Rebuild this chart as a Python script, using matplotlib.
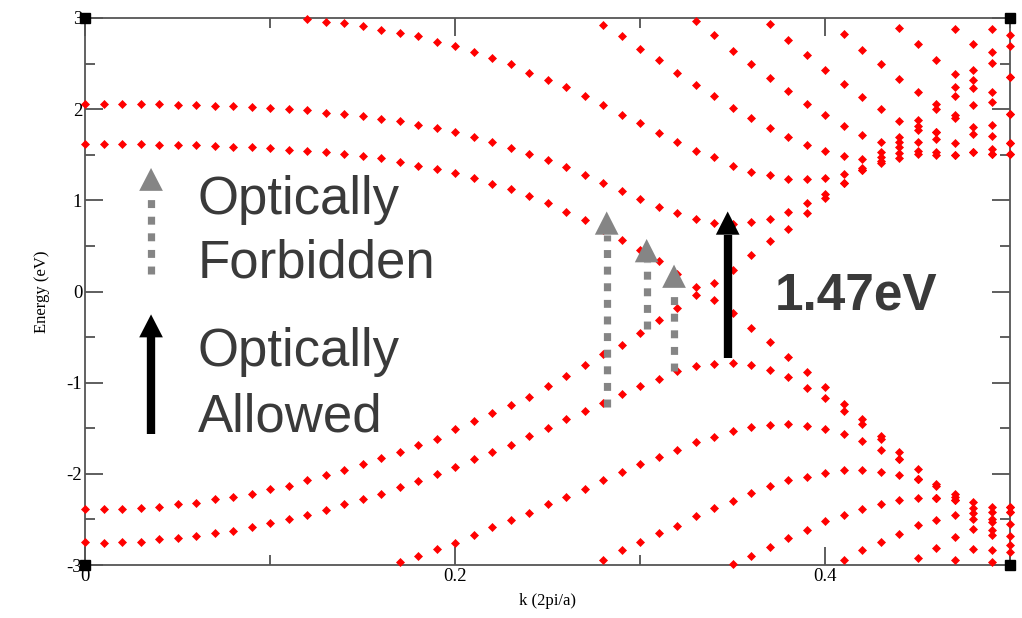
import numpy as np
import matplotlib
matplotlib.use("Agg")
import matplotlib.pyplot as plt
from matplotlib.patches import Polygon

plt.rcParams["axes.unicode_minus"] = False

# k-point sampling of the band calculation
k = np.linspace(0.0, 0.5, 51)

N = None
# conduction bands (eV), ordered from lowest at k=0
band_c1 = [1.616, 1.616, 1.616, 1.616, 1.604, 1.604, 1.604, 1.595, 1.59, 1.588,
           1.57, 1.555, 1.544, 1.533, 1.505, 1.49, 1.468, 1.42, 1.38, 1.344,
           1.30, 1.243, 1.18, 1.12, 1.045, 0.967, 0.877, 0.787, 0.68, 0.565,
           0.45, 0.33, 0.19, 0.05, 0.092, 0.236, 0.40, 0.55, 0.686, 0.862,
           1.025, 1.188, 1.333, 1.41, 1.46, 1.505, 1.50, 1.497, 1.533, 1.505, 1.505]
band_c2 = [2.054, 2.054, 2.054, 2.054, 2.054, 2.046, 2.046, 2.038, 2.038, 2.02,
           2.01, 2.0, 1.99, 1.96, 1.945, 1.92, 1.89, 1.87, 1.825, 1.79,
           1.75, 1.694, 1.64, 1.573, 1.507, 1.44, 1.362, 1.28, 1.194, 1.104,
           1.02, 0.93, 0.86, 0.795, 0.756, 0.743, 0.757, 0.795, 0.869, 0.971,
           1.065, 1.19, 1.333, 1.43, 1.52, 1.545, 1.53, 1.497, 1.533, 1.505, 1.505]
band_c3 = [N] * 12 + [2.99, 2.96, 2.94, 2.91, 2.87, 2.83, 2.80, 2.74,
                      2.69, 2.63, 2.56, 2.49, 2.40, 2.32, 2.24, 2.14, 2.05, 1.94,
                      1.85, 1.74, 1.64, 1.54, 1.47, 1.38, 1.315, 1.275, 1.235, 1.235,
                      1.24, 1.29, 1.359, 1.48, 1.58, 1.635, 1.67, 1.625, 1.727, 1.56, 1.625]
band_c4 = [N] * 28 + [2.92, 2.80, 2.66, 2.535, 2.40, 2.27, 2.14, 2.015, 1.90, 1.79,
                      1.69, 1.61, 1.54, 1.49, 1.45, 1.53, 1.64, 1.77, 1.75, 1.898,
                      1.807, 1.705, 1.625]
band_c5 = [N] * 33 + [2.965, 2.81, 2.637, 2.50, 2.342, 2.197, 2.062, 1.934, 1.818,
                      1.716, 1.64, 1.70, 1.82, 1.75, 1.934, 2.044, 1.825, 1.95]
band_c6 = [N] * 37 + [2.937, 2.754, 2.59, 2.434, 2.281, 2.134, 2.0, 1.87, 1.88,
                      2.0, 2.14, 2.237, 2.08, 1.95]
band_c7 = [N] * 41 + [2.827, 2.652, 2.50, 2.33, 2.19, 2.06, 2.24, 2.325, 2.19, 2.35]
band_c8 = [N] * 44 + [2.89, 2.72, 2.54, 2.39, 2.434, 2.51, 2.35]
band_c9 = [N] * 47 + [2.88, 2.71, 2.63, 2.69]
band_c10 = [N] * 49 + [2.88, 2.81]

# valence bands (eV), ordered from highest at k=0
band_v1 = [-2.387, -2.387, -2.387, -2.379, -2.367, -2.336, -2.317, -2.278, -2.258, -2.219,
           -2.17, -2.129, -2.07, -2.01, -1.953, -1.887, -1.824, -1.758, -1.68, -1.613,
           -1.511, -1.425, -1.335, -1.242, -1.152, -1.042, -0.929, -0.808, -0.69, -0.585,
           -0.45, -0.31, -0.18, -0.04, -0.088, -0.233, -0.40, -0.55, -0.714, -0.878,
           -1.053, -1.235, -1.399, -1.581, -1.756, -1.945, -2.109, -2.219, -2.31, -2.364, -2.364]
band_v2 = [-2.743, -2.755, -2.743, -2.743, -2.716, -2.704, -2.677, -2.645, -2.626, -2.579,
           -2.54, -2.493, -2.453, -2.395, -2.336, -2.274, -2.219, -2.149, -2.082, -2.004,
           -1.926, -1.84, -1.758, -1.68, -1.582, -1.492, -1.398, -1.308, -1.218, -1.12,
           -1.035, -0.956, -0.87, -0.82, -0.79, -0.78, -0.81, -0.86, -0.937, -1.054,
           -1.173, -1.308, -1.454, -1.617, -1.836, -2.062, -2.135, -2.255, -2.37, -2.419, -2.364]
band_v3 = [N] * 17 + [-2.965, -2.90, -2.82,
                      -2.755, -2.676, -2.586, -2.508, -2.43, -2.336, -2.254, -2.168, -2.07, -1.984,
                      -1.895, -1.816, -1.738, -1.652, -1.60, -1.53, -1.49, -1.465, -1.453, -1.472,
                      -1.508, -1.563, -1.636, -1.734, -1.836, -2.062, -2.266, -2.29, -2.43, -2.492, -2.42]
band_v4 = [N] * 28 + [-2.942, -2.84,
                      -2.747, -2.65, -2.567, -2.46, -2.375, -2.293, -2.207, -2.137, -2.07, -2.031,
                      -1.993, -1.953, -1.953, -1.975, -2.011, -2.062, -2.266, -2.29, -2.49, -2.528, -2.42]
band_v5 = [N] * 35 + [-2.99, -2.9, -2.80, -2.703, -2.618,
                      -2.52, -2.448, -2.39, -2.328, -2.292, -2.266, -2.266, -2.448, -2.60, -2.62, -2.555]
band_v6 = [N] * 41 + [-2.947, -2.838, -2.747, -2.656, -2.565, -2.51, -2.692, -2.82, -2.674, -2.685]
band_v7 = [N] * 45 + [-2.92, -2.809, -2.947, N, -2.838, -2.785]
band_v8 = [N] * 49 + [-2.965, -2.86]

bands = [band_c1, band_c2, band_c3, band_c4, band_c5, band_c6, band_c7, band_c8,
         band_c9, band_c10, band_v1, band_v2, band_v3, band_v4, band_v5, band_v6,
         band_v7, band_v8]

fig = plt.figure(figsize=(10.22, 6.18), dpi=100)
ax = fig.add_axes([85 / 1022, 53 / 618, 925 / 1022, 547 / 618])

for b in bands:
    e = np.array([np.nan if v is None else v for v in b], dtype=float)
    ax.plot(k, e, linestyle="none", marker="D", ms=3.9, color="#ff0000",
            mec="#ff0000", mew=0.5, clip_on=False, zorder=3)

ax.set_xlim(0, 0.5)
ax.set_ylim(-3, 3)
ax.set_xticks([0, 0.2, 0.4])
ax.set_xticklabels(["0", "0.2", "0.4"])
ax.set_xticks([0.1, 0.3, 0.5], minor=True)
ax.set_yticks(range(-3, 4))
ax.set_yticks(np.arange(-2.5, 3, 1.0), minor=True)
ax.tick_params(which="both", direction="in", top=True, right=True, color="#333333")
ax.tick_params(which="major", length=13, width=1.1, labelsize=13.5, pad=2)
ax.tick_params(which="minor", length=7, width=1.1)
for lab in ax.get_xticklabels() + ax.get_yticklabels():
    lab.set_family("Liberation Serif")
for s in ax.spines.values():
    s.set_color("#555555")
    s.set_linewidth(1.3)
ax.set_xlabel("k (2pi/a)", family="Liberation Serif", fontsize=12, labelpad=6)
ax.set_ylabel("Energy (eV)", family="Liberation Serif", fontsize=12, labelpad=12)

# corner markers
ax.plot([0, 1, 0, 1], [0, 0, 1, 1], "s", color="black", ms=7,
        transform=ax.transAxes, clip_on=False, zorder=5)


def arrow(x, y0, y1, yhead, color, dotted):
    # shaft from y0 up to the head base, then a filled triangular head
    if dotted:
        ax.plot([x, x], [y0, yhead], color=color, lw=5.2, solid_capstyle="butt",
                dash_capstyle="butt", linestyle=(0, (1.1, 1.2)), zorder=4)
    else:
        ax.plot([x, x], [y0, yhead], color=color, lw=6, solid_capstyle="butt", zorder=4)
    hw = 0.0064
    ax.add_patch(Polygon([[x - hw, yhead], [x + hw, yhead], [x, y1]],
                         closed=True, color=color, zorder=4, lw=0))


gray = "#858585"
arrow(0.0357, 0.197, 1.355, 1.104, gray, True)
arrow(0.0357, -1.563, -0.251, -0.503, "black", False)
arrow(0.282, -1.268, 0.878, 0.623, gray, True)
arrow(0.3036, -0.415, 0.576, 0.32, gray, True)
arrow(0.3184, -0.871, 0.295, 0.04, gray, True)
arrow(0.3474, -0.725, 0.878, 0.623, "black", False)

txt = dict(family="Liberation Sans", fontsize=38, color="#3a3a3a", zorder=6)
ax.text(0.061, 0.852, "Optically", **txt)
ax.text(0.061, 0.158, "Forbidden", **txt)
ax.text(0.061, -0.82, "Optically", **txt)
ax.text(0.061, -1.541, "Allowed", **txt)
ax.text(0.373, -0.197, "1.47eV", family="Liberation Sans", fontsize=37,
        fontweight="bold", color="#3a3a3a", zorder=6)

fig.savefig("out.png", dpi=100)
